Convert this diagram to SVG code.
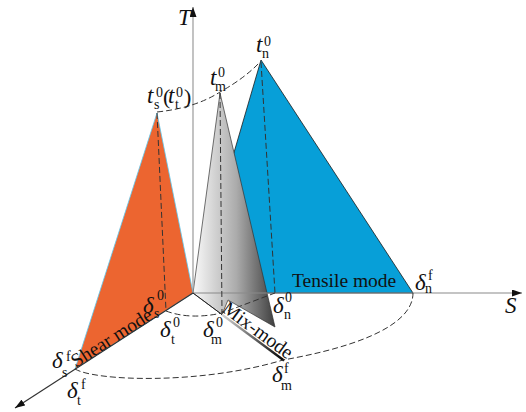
<svg xmlns="http://www.w3.org/2000/svg" width="526" height="412" viewBox="0 0 526 412">
<style>
.mi{font-family:"Liberation Serif","Times New Roman",serif;font-style:italic;font-size:23px;fill:#111}
.sc{font-family:"Liberation Serif","Times New Roman",serif;font-size:14px;fill:#111}
.rp{font-family:"Liberation Serif","Times New Roman",serif;font-size:22px;fill:#111}
.lab{font-family:"Liberation Serif","Times New Roman",serif;font-size:19.5px;fill:#111}
.dash{fill:none;stroke:#333;stroke-width:1;stroke-dasharray:6,3}
.ax{fill:none;stroke-width:1.2}
</style>
<defs>
<marker id="arr" markerUnits="userSpaceOnUse" markerWidth="10" markerHeight="7" refX="10" refY="3.5" orient="auto">
<path d="M0,0 L10,3.5 L0,7 z" fill="#111"/>
</marker>
<linearGradient id="gg" gradientUnits="userSpaceOnUse" x1="195" y1="0" x2="278" y2="0">
<stop offset="0" stop-color="#f6f6f6"/>
<stop offset="0.5" stop-color="#ababab"/>
<stop offset="1" stop-color="#363636"/>
</linearGradient>
<linearGradient id="lg" gradientUnits="userSpaceOnUse" x1="220" y1="312" x2="284" y2="360">
<stop offset="0" stop-color="#dddddd"/>
<stop offset="1" stop-color="#000"/>
</linearGradient>
</defs>
<rect width="526" height="412" fill="#fff"/>

<g id="tensile-mode">
<polygon points="261,60 193,293 413,293" fill="#079fd8" stroke="#1a1a1a" stroke-width="0.8"/>
<text class="lab" x="292" y="287">Tensile mode</text>
</g>

<g id="shear-mode">
<polygon points="157,113 193,293 75,369" fill="#ec6530" stroke="#5cc6ee" stroke-width="0.8"/>
<text class="lab" x="76" y="368" font-size="20.5" transform="rotate(-32.4 76 368)">Shear mode</text>
</g>

<g id="mix-mode">
<polygon points="220,93 275,327 228,300 222,314.6 193,293" fill="url(#gg)" stroke="#333" stroke-width="0.7"/>
<line x1="222" y1="314.6" x2="284" y2="360.5" stroke="url(#lg)" stroke-width="2.4"/>
<text class="lab" x="221" y="311" font-size="19" transform="rotate(36.3 221 311)">Mix-mode</text>
</g>

<g id="axes">
<line class="ax" x1="193" y1="293" x2="193" y2="7" stroke="#9a9a9a" stroke-width="1.5" marker-end="url(#arr)"/>
<line class="ax" x1="193" y1="293" x2="522" y2="293" stroke="#8a8a8a" stroke-width="1.5" marker-end="url(#arr)"/>
<line class="ax" x1="193" y1="293" x2="15" y2="408" stroke="#333" stroke-width="1" marker-end="url(#arr)"/>
<line x1="193" y1="293" x2="222" y2="314.6" stroke="#222" stroke-width="1"/>
<text class="mi" x="178" y="25" font-size="20">T</text>
<text class="mi" x="505" y="313">S</text>
</g>

<g id="connectors">
<path class="dash" d="M157,112 Q195,108 220,92 Q245,78 260,62"/>
<path class="dash" d="M157,113 L166,311"/>
<path class="dash" d="M220,93 L222,313"/>
<path class="dash" d="M261,62 L275,293"/>
<path class="dash" d="M166,311 Q190,320 222,313 L275,293"/>
<path class="dash" d="M75,369 C95,381 200,385 283,360 C340,350 413,330 413,293"/>
</g>

<g id="labels">
<g id="t-s0">
<text class="mi" x="147" y="103">t</text><text class="sc" x="156" y="97">0</text><text class="sc" x="154" y="109">s</text>
<text class="rp" x="163" y="104">(</text>
<text class="mi" x="168" y="103">t</text><text class="sc" x="176" y="97">0</text><text class="sc" x="175" y="109">t</text>
<text class="rp" x="184" y="104">)</text>
</g>
<g id="t-m0">
<text class="mi" x="210" y="85">t</text><text class="sc" x="218" y="77">0</text><text class="sc" x="215" y="91">m</text>
</g>
<g id="t-n0">
<text class="mi" x="256" y="52">t</text><text class="sc" x="264" y="46">0</text><text class="sc" x="262" y="58">n</text>
</g>
<g id="d-sf">
<text class="mi" x="52" y="368">δ</text><text class="sc" x="66" y="361">f</text><text class="sc" x="62" y="377">s</text>
</g>
<g id="d-tf">
<text class="mi" x="67" y="398">δ</text><text class="sc" x="81" y="389">f</text><text class="sc" x="77" y="405">t</text>
</g>
<g id="d-s0">
<text class="mi" x="143" y="313">δ</text><text class="sc" x="157" y="300">0</text><text class="sc" x="154" y="318">s</text>
</g>
<g id="d-t0">
<text class="mi" x="160" y="337">δ</text><text class="sc" x="173" y="327">0</text><text class="sc" x="171" y="344">t</text>
</g>
<g id="d-m0">
<text class="mi" x="203" y="337">δ</text><text class="sc" x="216" y="327">0</text><text class="sc" x="211" y="344">m</text>
</g>
<g id="d-n0">
<text class="mi" x="273" y="313">δ</text><text class="sc" x="285" y="302">0</text><text class="sc" x="284" y="319">n</text>
</g>
<g id="d-nf">
<text class="mi" x="415" y="290">δ</text><text class="sc" x="428" y="280">f</text><text class="sc" x="425" y="293">n</text>
</g>
<g id="d-mf">
<text class="mi" x="272" y="382">δ</text><text class="sc" x="284" y="373">f</text><text class="sc" x="281" y="390">m</text>
</g>
</g>
</svg>
